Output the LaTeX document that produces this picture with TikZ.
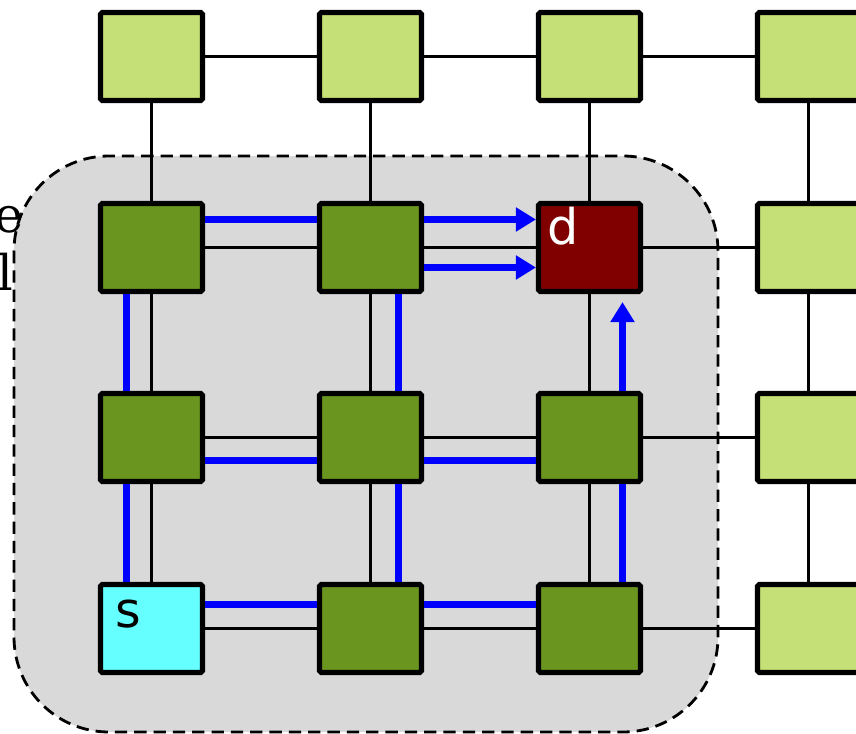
\documentclass[tikz,border=0pt]{standalone}
\usepackage{fontspec}
\usepackage{tikz}
\usetikzlibrary{arrows.meta, calc}
\newfontfamily\letterfont{DejaVu Sans}
\newfontfamily\sidefont{DejaVu Serif}
\definecolor{mylime}{RGB}{197,224,119}
\definecolor{myolive}{RGB}{106,150,31}
\definecolor{mymaroon}{RGB}{128,0,0}
\definecolor{mycyan}{RGB}{102,255,255}
\definecolor{myblue}{RGB}{0,0,255}
\definecolor{mygray}{RGB}{217,217,217}
\tikzset{
  router/.style={rectangle, draw=black, line width=2.9pt, rounded corners=1pt,
    minimum width=2.04cm, minimum height=1.76cm, inner sep=0pt},
  outer/.style={router, fill=mylime},
  inner/.style={router, fill=myolive},
  link/.style={line width=1.35pt, color=black},
  route/.style={line width=4pt, color=myblue},
  routearrow/.style={route, -{Triangle[length=0.4cm, width=0.46cm]}},
  region/.style={dash pattern=on 7pt off 4pt, line width=1.6pt,
    fill=mygray, rounded corners=1.9cm},
  lettxt/.style={font=\letterfont\fontsize{28}{32}\selectfont, inner sep=0pt},
  sidetxt/.style={font=\sidefont\fontsize{28}{32}\selectfont, inner sep=0pt}
}

\begin{document}
\begin{tikzpicture}[x=0.02cm, y=-0.02cm]
  \useasboundingbox (0,0) rectangle (856,734);
  \clip (0,0) rectangle (856,734);

  % shaded region around the routing area
  \draw[region] (14,156) rectangle (718,732);

  % cut-off caption on the left
  \node[sidetxt, anchor=base east] (etxt) at (24,232) {e};
  \node[sidetxt, anchor=base east] (ltxt) at (14,290) {l};

  % top row
  \node[outer] (n11) at (151.5,56.5) {};
  \node[outer] (n12) at (370.5,56.5) {};
  \node[outer] (n13) at (589.5,56.5) {};
  \node[outer] (n14) at (808.5,56.5) {};
  % second row
  \node[inner] (n21) at (151.5,247.5) {};
  \node[inner] (n22) at (370.5,247.5) {};
  \node[router, fill=mymaroon] (n23) at (589.5,247.5) {};
  \node[outer] (n24) at (808.5,247.5) {};
  % third row
  \node[inner] (n31) at (151.5,437.5) {};
  \node[inner] (n32) at (370.5,437.5) {};
  \node[inner] (n33) at (589.5,437.5) {};
  \node[outer] (n34) at (808.5,437.5) {};
  % bottom row
  \node[router, fill=mycyan] (n41) at (151.5,628.5) {};
  \node[inner] (n42) at (370.5,628.5) {};
  \node[inner] (n43) at (589.5,628.5) {};
  \node[outer] (n44) at (808.5,628.5) {};

  % source and destination letters
  \node[lettxt, text=white, anchor=base west] (dtxt) at ($(n23.north west)+(11,44)$) {d};
  \node[lettxt, anchor=base west] (stxt) at ($(n41.north west)+(17,46)$) {s};

  % mesh links
  \foreach \r in {1,...,4} {
    \draw[link] (n\r1) -- (n\r2) (n\r2) -- (n\r3) (n\r3) -- (n\r4);
    \draw[link] (n1\r) -- (n2\r) (n2\r) -- (n3\r) (n3\r) -- (n4\r);
  }

  % left column and second row
  \draw[route] ($(n41.north)+(-25,0)$) -- ($(n31.south)+(-25,0)$);
  \draw[route] ($(n31.north)+(-25,0)$) -- ($(n21.south)+(-25,0)$);
  \draw[route] ($(n21.east)+(0,-28)$) -- ($(n22.west)+(0,-28)$);
  \draw[routearrow] ($(n22.east)+(0,-28)$) -- ($(n23.west)+(0,-28)$);

  % middle column
  \draw[route] ($(n31.east)+(0,23)$) -- ($(n32.west)+(0,23)$);
  \draw[route] ($(n42.north)+(28,0)$) -- ($(n32.south)+(28,0)$);
  \draw[route] ($(n32.north)+(28,0)$) -- ($(n22.south)+(28,0)$);
  \draw[routearrow] ($(n22.east)+(0,20)$) -- ($(n23.west)+(0,20)$);

  % bottom row and right column
  \draw[route] ($(n41.east)+(0,-24)$) -- ($(n42.west)+(0,-24)$);
  \draw[route] ($(n42.east)+(0,-24)$) -- ($(n43.west)+(0,-24)$);
  \draw[route] ($(n32.east)+(0,23)$) -- ($(n33.west)+(0,23)$);
  \draw[route] ($(n43.north)+(33,0)$) -- ($(n33.south)+(33,0)$);
  \draw[routearrow] ($(n33.north)+(33,0)$) -- ($(n23.south)+(33,8)$);
\end{tikzpicture}
\end{document}
